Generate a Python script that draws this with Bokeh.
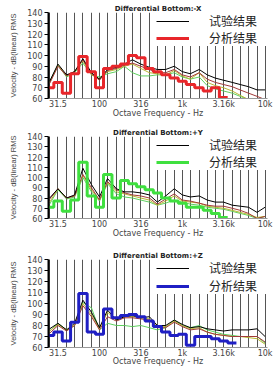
import math
from bokeh.plotting import figure
from bokeh.layouts import column
from bokeh.models import FixedTicker, Legend, LegendItem, Range1d
from bokeh.embed import file_html
from bokeh.resources import INLINE

# 1/3-octave band centre frequencies (Hz)
bands = [25, 31.5, 40, 50, 63, 80, 100, 125, 160, 200, 250, 315, 400, 500, 630,
         800, 1000, 1250, 1600, 2000, 2500, 3150, 4000, 5000, 6300, 8000, 10000]
x_ticks = [31.5, 100, 316, 1000, 3160, 10000]
x_tick_labels = ["31.5", "100", "316", "1k", "3.16k", "10k"]
y_ticks = [60, 70, 80, 90, 100, 110, 120, 130, 140]

titles = ["Differential Bottom:-X", "Differential Bottom:+Y", "Differential Bottom:+Z"]
legend_labels = ["试验结果", "分析结果"]

# -X
test_x = [76, 92, 82, 85, 97, 84, 78, 87, 89, 92, 96, 92, 89, 87, 87, 90, 85, 83, 87, 82, 79, 77, 75, 73, 71, 68, 68]
darkred_x = [74, 90, 81, 85, 96, 83, 77, 86, 88, 91, 93, 90, 87, 84, 84, 87, 82, 80, 84, 78, 75, 73, 71, 68, 65, 62, 59]
olive_x = [75, 91, 81, 85, 95, 82, 78, 85, 87, 90, 92, 88, 84, 83, 82, 86, 81, 78, 84, 75, 72, 70, 67, 63, 59, 55, 52]
green_x = [76, 91, 80, 84, 93, 82, 80, 83, 85, 90, 84, 81, 81, 82, 82, 84, 80, 78, 80, 72, 69, 67, 65, 62, 59, 55, 52]
analysis_x = [70, 75, 65, 83, 99, 85, 70, 88, 90, 92, 100, 98, 88, 85, 82, 79, 76, 73, 70, 67, 70, 61]

# +Y
test_y = [80, 89, 80, 83, 109, 93, 81, 99, 89, 86, 86, 85, 83, 76, 82, 89, 83, 81, 82, 78, 76, 76, 73, 72, 71, 66, 71]
darkred_y = [79, 89, 80, 82, 103, 90, 78, 96, 88, 85, 83, 82, 80, 74, 79, 84, 78, 77, 75, 73, 72, 72, 70, 68, 65, 60, 62]
olive_y = [76, 89, 80, 82, 102, 88, 78, 95, 86, 84, 82, 80, 78, 73, 77, 82, 77, 76, 75, 72, 71, 70, 68, 66, 64, 61, 62]
green_y = [74, 88, 79, 81, 100, 86, 77, 94, 84, 81, 80, 78, 76, 73, 75, 78, 76, 74, 73, 71, 70, 69, 67, 65, 63, 60, 62]
analysis_y = [71, 77, 67, 78, 115, 82, 71, 103, 80, 97, 94, 91, 88, 85, 80, 77, 75, 71, 71, 68, 65, 61]

# +Z
test_z = [77, 82, 76, 82, 103, 92, 78, 94, 85, 88, 89, 87, 88, 80, 80, 85, 81, 78, 79, 77, 76, 75, 76, 76, 76, 77, 70]
darkred_z = [73, 80, 75, 80, 98, 88, 76, 88, 84, 87, 87, 86, 85, 78, 78, 83, 79, 76, 77, 74, 72, 71, 70, 70, 70, 70, 65]
olive_z = [75, 81, 76, 80, 100, 90, 77, 92, 85, 88, 88, 87, 86, 79, 79, 84, 80, 77, 78, 74, 72, 71, 70, 70, 69, 68, 63]
green_z = [75, 82, 76, 80, 101, 96, 76, 82, 80, 80, 79, 80, 78, 76, 78, 85, 80, 78, 80, 76, 74, 72, 71, 70, 70, 70, 64]
analysis_z = [71, 74, 66, 83, 109, 74, 72, 95, 87, 89, 90, 88, 84, 79, 74, 71, 72, 62, 70, 70, 68, 66, 64]

analysis_colors = ["#e8262a", "#3fe03f", "#1f1fc4"]


def band_edges(n):
    edges = [bands[0] / math.sqrt(bands[1] / bands[0])]
    for i in range(1, n):
        edges.append(math.sqrt(bands[i - 1] * bands[i]))
    edges.append(bands[n - 1] * math.sqrt(bands[n - 1] / bands[n - 2]))
    return edges


def make_fig(title, test, darkred, olive, green, analysis, acolor, height, top, bottom,
             leg_spacing, xlabel_standoff):
    p = figure(x_axis_type="log", x_range=Range1d(24.2, 10700), y_range=Range1d(60, 140),
               output_backend="svg", toolbar_location=None, title=title,
               width=280, height=height,
               min_border_left=48, min_border_right=13, min_border_top=top,
               min_border_bottom=bottom, background_fill_color="white",
               border_fill_color="white")
    p.outline_line_color = None
    p.title.text_font = "DejaVu Sans"
    p.title.text_font_size = "7px"
    p.title.text_font_style = "bold"
    p.title.align = "center"
    p.title.text_color = "#222222"
    p.title.standoff = 0

    p.xgrid.ticker = FixedTicker(ticks=bands)
    p.xgrid.grid_line_color = "#555555"
    p.xgrid.grid_line_width = 1
    p.ygrid.visible = False

    p.xaxis.ticker = FixedTicker(ticks=x_ticks)
    p.xaxis.major_label_overrides = {t: l for t, l in zip(x_ticks, x_tick_labels)}
    p.xaxis.major_tick_out = 0
    p.xaxis.major_tick_in = 0
    p.xaxis.minor_tick_line_color = None
    p.xaxis.axis_line_color = "#999999"
    p.xaxis.major_label_standoff = 1
    p.xaxis.major_label_text_font = "DejaVu Sans"
    p.xaxis.major_label_text_font_size = "8px"
    p.xaxis.axis_label = "Octave Frequency - Hz"
    p.xaxis.axis_label_text_font = "DejaVu Sans"
    p.xaxis.axis_label_text_font_size = "8px"
    p.xaxis.axis_label_text_font_style = "normal"
    p.xaxis.axis_label_standoff = xlabel_standoff

    p.yaxis.ticker = FixedTicker(ticks=y_ticks)
    p.yaxis.major_tick_out = 4
    p.yaxis.major_tick_in = 0
    p.yaxis.minor_tick_line_color = None
    p.yaxis.axis_line_width = 2
    p.yaxis.axis_line_color = "black"
    p.yaxis.major_label_standoff = 2
    p.yaxis.major_label_text_font = "DejaVu Sans"
    p.yaxis.major_label_text_font_size = "8px"
    p.yaxis.axis_label = "Velocity - dB(linear) RMS"
    p.yaxis.axis_label_text_font = "Liberation Sans"
    p.yaxis.axis_label_text_font_size = "7.5px"
    p.yaxis.axis_label_text_font_style = "normal"
    p.yaxis.axis_label_standoff = 6

    p.line(bands, green, line_color="#5fd05f", line_width=1)
    p.line(bands, olive, line_color="#b9b935", line_width=1)
    p.line(bands, darkred, line_color="#a33a3a", line_width=1)
    r_test = p.line(bands, test, line_color="black", line_width=1)

    n = len(analysis)
    edges = band_edges(n)
    r_an = p.step(edges, list(analysis) + [analysis[-1]], mode="after",
                  line_color=acolor, line_width=3)

    legend = Legend(items=[LegendItem(label=legend_labels[0], renderers=[r_test]),
                           LegendItem(label=legend_labels[1], renderers=[r_an])],
                    location="top_right", orientation="vertical",
                    background_fill_color="white", background_fill_alpha=1,
                    border_line_color=None, padding=1, margin=0, spacing=leg_spacing,
                    glyph_width=33, glyph_height=16, label_standoff=20,
                    label_height=16, label_width=58, label_text_font="Noto Sans CJK SC",
                    label_text_font_size="12px", label_text_color="#222222")
    p.add_layout(legend)
    return p


p1 = make_fig(titles[0], test_x, darkred_x, olive_x, green_x, analysis_x, analysis_colors[0],
              120, 12, 21, 0, -3)
p2 = make_fig(titles[1], test_y, darkred_y, olive_y, green_y, analysis_y, analysis_colors[1],
              120, 16, 18, 0, -3)
p3 = make_fig(titles[2], test_z, darkred_z, olive_z, green_z, analysis_z, analysis_colors[2],
              128, 19, 21, 1, -4)

layout = column(p1, p2, p3, spacing=0)
open("out.html", "w").write(file_html(layout, INLINE))
